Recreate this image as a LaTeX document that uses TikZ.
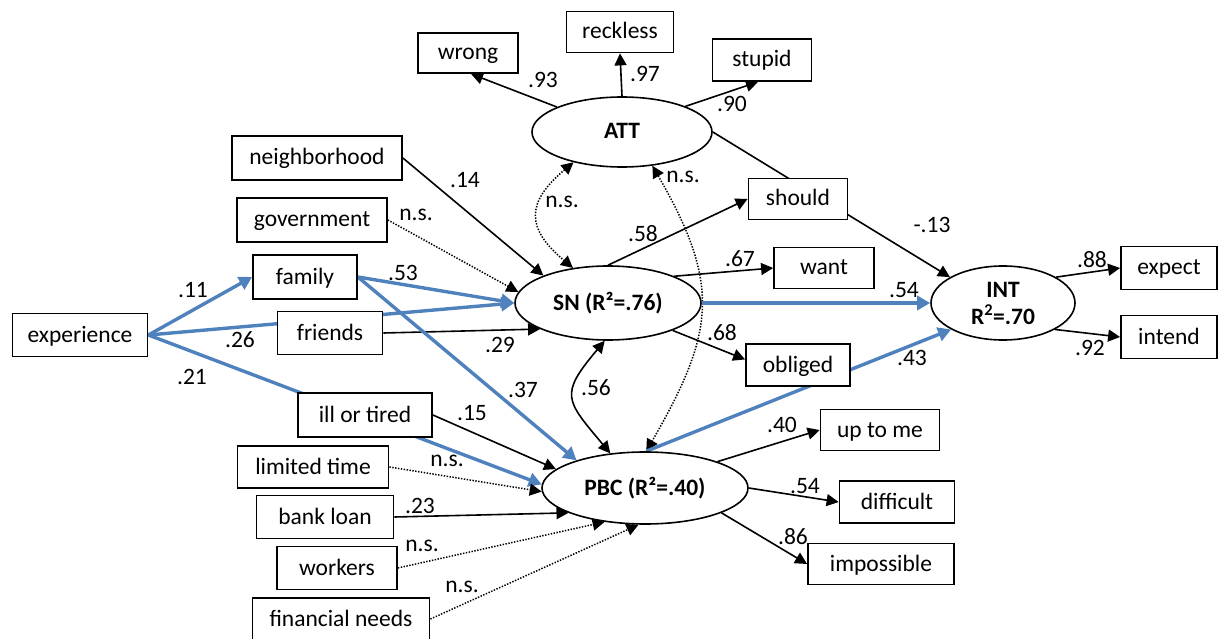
\documentclass[tikz,border=0pt]{standalone}
\usepackage{fontspec}
\setmainfont{Carlito}
\usetikzlibrary{arrows.meta,shapes.geometric}
\definecolor{pathblue}{RGB}{79,129,189}
\pgfdeclarelayer{bg}
\pgfsetlayers{bg,main}

\begin{document}
\begin{tikzpicture}[x=1pt,y=1pt,
  >={Triangle[length=12pt,width=12pt]},
  txt/.style={font=\fontsize{23.5}{26}\selectfont},
  box/.style={txt,draw,line width=1.8pt,fill=white,inner sep=0pt,text height=18pt,text depth=4pt},
  latent/.style={txt,draw,ellipse,line width=1.6pt,fill=white,inner sep=0pt,font=\fontsize{23.5}{26}\selectfont\bfseries},
  lbl/.style={txt,inner sep=0pt},
  solidarr/.style={line width=1.6pt,->},
  nsarr/.style={line width=1.5pt,dash pattern=on 1.4pt off 1.5pt,->},
  sigarr/.style={line width=3.4pt,pathblue,-{Triangle[length=13pt,width=14pt]}},
]
\useasboundingbox (0,0) rectangle (1219,-639);

% latent constructs
\node[latent,minimum width=180pt,minimum height=70pt,text height=18pt,text depth=4pt] (ATT) at (622,-132) {ATT};
\node[latent,minimum width=186pt,minimum height=74pt,text height=18pt,text depth=4pt] (SN) at (608,-303) {SN (R²=.76)};
\node[latent,minimum width=206pt,minimum height=72pt,text height=18pt,text depth=4pt] (PBC) at (645,-488) {PBC (R²=.40)};
\node[latent,minimum width=144pt,minimum height=74pt,align=center] (INT) at (1003,-303) {INT\\[1pt]R\textsuperscript{2}=.70};

% attitude indicators
\node[box,minimum width=100pt,minimum height=40pt] (wrong) at (468,-53) {wrong};
\node[box,minimum width=107pt,minimum height=41pt] (reckless) at (620,-32) {reckless};
\node[box,minimum width=99pt,minimum height=42pt] (stupid) at (762,-60) {stupid};

% norm referents and predictors
\node[box,minimum width=170pt,minimum height=44pt] (neighborhood) at (317,-158) {neighborhood};
\node[box,minimum width=150pt,minimum height=44pt] (government) at (312,-220) {government};
\node[box,minimum width=104pt,minimum height=44pt] (family) at (305,-277) {family};
\node[box,minimum width=135pt,minimum height=43pt] (experience) at (80,-335) {experience};
\node[box,minimum width=105pt,minimum height=43pt] (friends) at (330,-333) {friends};
\node[box,minimum width=134pt,minimum height=44pt] (illtired) at (365,-415) {ill or tired};
\node[box,minimum width=151pt,minimum height=42pt] (limited) at (313,-467) {limited time};
\node[box,minimum width=137pt,minimum height=43pt] (bank) at (325,-517) {bank loan};
\node[box,minimum width=120pt,minimum height=43pt] (workers) at (337,-568) {workers};
\node[box,minimum width=177pt,minimum height=42pt] (financial) at (341,-619) {financial needs};

% norm, control and intention indicators
\node[box,minimum width=99pt,minimum height=41pt] (should) at (798,-199) {should};
\node[box,minimum width=100pt,minimum height=41pt] (want) at (824,-268) {want};
\node[box,minimum width=104pt,minimum height=42pt] (obliged) at (798,-365) {obliged};
\node[box,minimum width=96pt,minimum height=43pt] (expect) at (1169,-268) {expect};
\node[box,minimum width=96pt,minimum height=43pt] (intend) at (1169,-337) {intend};
\node[box,minimum width=119pt,minimum height=41pt] (uptome) at (880,-430) {up to me};
\node[box,minimum width=115pt,minimum height=42pt] (difficult) at (897,-502) {difficult};
\node[box,minimum width=146pt,minimum height=41pt] (impossible) at (881,-564) {impossible};

\begin{pgfonlayer}{bg}
% attitude
\draw[solidarr] (ATT.159) -- ([xshift=3pt]wrong.south);
\draw[solidarr] (ATT.north) -- (reckless.south);
\draw[solidarr] (ATT.22) -- ([xshift=-4pt]stupid.south);
\draw[solidarr] (ATT.east) -- (INT.154);
% correlations between constructs
\draw[nsarr,<->] (ATT.212) to[out=220,in=140,looseness=1.5] (SN.135);
\draw[nsarr,<->] (ATT.312) to[out=300,in=60,looseness=1.23] (PBC.88);
\draw[line width=1.6pt,<->] (SN.265) to[out=230,in=130,looseness=1.6] (PBC.135);
% subjective norm
\draw[solidarr] (neighborhood.east) -- (SN.157);
\draw[nsarr] (government.east) -- (SN.173);
\draw[sigarr] (family.east) -- (SN.west);
\draw[sigarr] (experience.east) -- (SN.west);
\draw[solidarr] (friends.east) -- (SN.201);
\draw[solidarr] (SN.north) -- (should.west);
\draw[solidarr] (SN.22) -- (want.west);
\draw[sigarr] (SN.east) -- (INT.west);
\draw[solidarr] (SN.337) -- (obliged.174);
% perceived behavioural control
\draw[sigarr] (experience.east) -- (family.west);
\draw[sigarr] (family.east) -- (PBC.158);
\draw[solidarr] (illtired.east) -- (PBC.168);
\draw[sigarr] (experience.east) -- (PBC.178);
\draw[nsarr] (limited.east) -- (PBC.182);
\draw[solidarr] (bank.east) -- (PBC.198);
\draw[nsarr] (workers.east) -- (PBC.220);
\draw[nsarr] (financial.east) -- (PBC.260);
\draw[sigarr] (PBC.88) -- (INT.207);
\draw[solidarr] (PBC.20) -- (uptome.west);
\draw[solidarr] (PBC.east) -- (difficult.west);
\draw[solidarr] (PBC.342) -- (impossible.west);
% intention
\draw[solidarr] (INT.26) -- (expect.west);
\draw[solidarr] (INT.333) -- (intend.west);
\end{pgfonlayer}

% path coefficients
\node[lbl] (l93) at (543,-80) {.93};
\node[lbl] (l97) at (645,-74) {.97};
\node[lbl] (l90) at (732,-104) {.90};
\node[lbl] (l14) at (465,-180) {.14};
\node[lbl] (lgov) at (416,-215) {n.s.};
\node[lbl] (lattsn) at (562,-202) {n.s.};
\node[lbl] (lattpbc) at (683,-177) {n.s.};
\node[lbl] (l11) at (193,-290) {.11};
\node[lbl] (l53) at (403,-273) {.53};
\node[lbl] (l26) at (240,-340) {.26};
\node[lbl] (l29) at (500,-345) {.29};
\node[lbl] (l21) at (192,-377) {.21};
\node[lbl] (l37) at (523,-390) {.37};
\node[lbl] (l15) at (472,-413) {.15};
\node[lbl] (llim) at (447,-461) {n.s.};
\node[lbl] (l23) at (420,-506) {.23};
\node[lbl] (lwork) at (422,-546) {n.s.};
\node[lbl] (lfin) at (462,-587) {n.s.};
\node[lbl] (l56) at (596,-388) {.56};
\node[lbl] (l58) at (643,-234) {.58};
\node[lbl] (l67) at (740,-259) {.67};
\node[lbl] (l54a) at (904,-290) {.54};
\node[lbl] (l68) at (722,-333) {.68};
\node[lbl] (l43) at (912,-358) {.43};
\node[lbl] (l13) at (932,-225) {-.13};
\node[lbl] (l88) at (1092,-260) {.88};
\node[lbl] (l92) at (1090,-348) {.92};
\node[lbl] (l40) at (782,-425) {.40};
\node[lbl] (l54b) at (805,-486) {.54};
\node[lbl] (l86) at (793,-537) {.86};
\end{tikzpicture}
\end{document}
